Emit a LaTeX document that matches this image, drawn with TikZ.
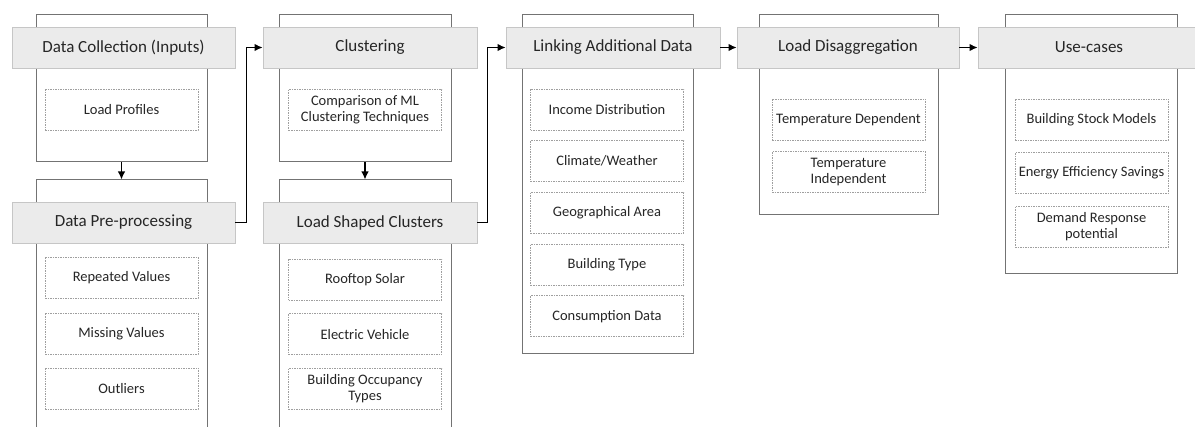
\documentclass[tikz,border=0pt]{standalone}
\usepackage{fontspec}
\setmainfont{Carlito}
\usetikzlibrary{arrows.meta,positioning}
\definecolor{headfill}{HTML}{EBEBEB}
\definecolor{txt}{HTML}{262626}
\tikzstyle{panel}=[rectangle,draw=gray!90!black,line width=1pt,fill=white]
\tikzstyle{head}=[rectangle,draw=gray!45,line width=0.8pt,fill=headfill,minimum height=41pt,text=txt,font=\fontsize{17}{19}\selectfont]
\tikzstyle{item}=[rectangle,draw=gray!75,line width=0.7pt,dash pattern=on 1.5pt off 1pt,minimum width=153pt,minimum height=41pt,inner sep=1pt,align=center,text=txt,font=\fontsize{14.5}{16}\selectfont]
\tikzstyle{arr}=[-{Latex[length=8pt,width=7.5pt]},line width=1.3pt]

\begin{document}
\begin{tikzpicture}[x=1pt,y=-1pt]
\clip (0,0) rectangle (1195,427);
% outer panels
\node[panel,minimum width=171pt,minimum height=147pt] (P1a) at (121.5,88.5) {};
\node[panel,minimum width=171pt,minimum height=260pt] (P1b) at (121.5,310) {};
\node[panel,minimum width=172pt,minimum height=147pt] (P2a) at (365,88.5) {};
\node[panel,minimum width=172pt,minimum height=260pt] (P2b) at (365,310) {};
\node[panel,minimum width=171pt,minimum height=339pt] (P3) at (607.5,184.5) {};
\node[panel,minimum width=179pt,minimum height=200pt] (P4) at (848.5,115) {};
\node[panel,minimum width=172pt,minimum height=259pt] (P5) at (1091,144.5) {};
% headers
\node[head,minimum width=223pt] (H1a) at (123.5,47.5) {Data Collection (Inputs)};
\node[head,minimum width=223pt] (H1b) at (123.5,222.5) {Data Pre-processing};
\node[head,minimum width=214pt] (H2a) at (370,47.5) {Clustering};
\node[head,minimum width=214pt] (H2b) at (370,222.5) {Load Shaped Clusters};
\node[head,minimum width=214pt] (H3) at (613,47.5) {Linking Additional Data};
\node[head,minimum width=222pt] (H4) at (848,47.5) {Load Disaggregation};
\node[head,minimum width=222pt] (H5) at (1089,47.5) {Use-cases};
% items
\node[item] (A1) at (121.5,109.5) {Load Profiles};
\node[item] (B1) at (121.5,278) {Repeated Values};
\node[item,below=14pt of B1] (B2) {Missing Values};
\node[item,below=13pt of B2] (B3) {Outliers};
\node[item] (C1) at (365,110) {Comparison of ML\\Clustering Techniques};
\node[item] (D1) at (365,279.5) {Rooftop Solar};
\node[item,below=13pt of D1] (D2) {Electric Vehicle};
\node[item,below=13pt of D2] (D3) {Building Occupancy\\Types};
\node[item] (E1) at (607,109.5) {Income Distribution};
\node[item,below=10pt of E1] (E2) {Climate/Weather};
\node[item,below=10pt of E2] (E3) {Geographical Area};
\node[item,below=10pt of E3] (E4) {Building Type};
\node[item,below=10pt of E4] (E5) {Consumption Data};
\node[item] (F1) at (848.5,119.5) {Temperature Dependent};
\node[item,below=11pt of F1] (F2) {Temperature\\Independent};
\node[item] (G1) at (1091.5,119.5) {Building Stock Models};
\node[item,below=12pt of G1] (G2) {Energy Efficiency Savings};
\node[item,below=12pt of G2] (G3) {Demand Response\\potential};
% connectors
\draw[arr] (P1a.south) -- (P1b.north);
\draw[arr] (P2a.south) -- (P2b.north);
\draw[arr] (H1b.east) -- ++(11,0) |- (H2a.west);
\draw[arr] (H2b.east) -- ++(10,0) |- (H3.west);
\draw[arr] (H3.east) -- (H4.west);
\draw[arr] (H4.east) -- (H5.west);
\end{tikzpicture}
\end{document}
